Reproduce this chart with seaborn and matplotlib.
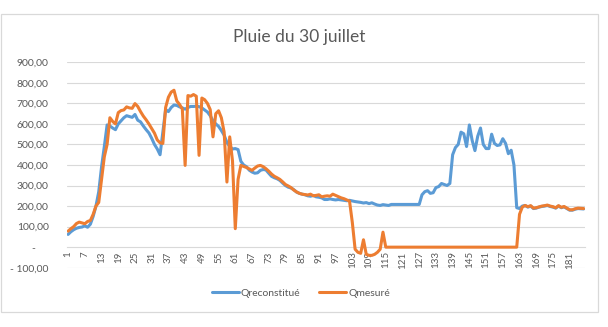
import matplotlib
matplotlib.use("Agg")
import matplotlib.pyplot as plt
from matplotlib.patches import Rectangle
import numpy as np
import pandas as pd
import seaborn as sns

# Flow series (m3/h), one value per time step
q_reconstitue = [
    62, 75, 85, 92, 96, 98, 104, 97, 112, 150,
    200, 270, 390, 490, 595, 590, 580, 572, 600, 615,
    630, 640, 636, 632, 646, 618, 610, 590, 572, 556,
    530, 500, 478, 450, 560, 670, 660, 680, 692, 690,
    683, 678, 672, 680, 685, 685, 686, 684, 678, 668,
    658, 640, 615, 600, 588, 568, 545, 510, 490, 478,
    480, 475, 418, 400, 392, 375, 366, 360, 362, 374,
    378, 376, 360, 345, 338, 333, 325, 312, 300, 292,
    288, 280, 268, 262, 258, 255, 250, 248, 252, 245,
    243, 240, 232, 232, 235, 232, 230, 232, 230, 228,
    226, 228, 225, 222, 220, 218, 215, 217, 212, 216,
    210, 205, 203, 207, 205, 203, 208, 208, 208, 208,
    208, 208, 208, 208, 208, 208, 208, 255, 270, 275,
    262, 265, 290, 295, 310, 305, 300, 310, 450, 485,
    500, 560, 552, 490, 595, 520, 470, 540, 580, 500,
    480, 480, 550, 505, 495, 498, 528, 505, 455, 472,
    400, 192, 188, 200, 203, 195, 200, 188, 190, 195,
    198, 200, 203, 198, 195, 190, 200, 192, 196, 188,
    180, 180, 185, 188, 187, 186,
]

q_mesure = [
    78, 90, 100, 115, 122, 118, 114, 125, 130, 160,
    200, 218, 330, 440, 500, 630, 612, 600, 655, 665,
    668, 683, 678, 676, 699, 685, 660, 638, 620, 600,
    578, 555, 522, 508, 505, 680, 730, 755, 764, 712,
    695, 672, 398, 738, 735, 743, 735, 447, 726, 718,
    700, 670, 537, 650, 664, 630, 560, 317, 537, 420,
    90, 330, 398, 393, 388, 381, 374, 385, 395, 398,
    392, 382, 370, 356, 345, 338, 330, 318, 305, 298,
    290, 278, 269, 262, 258, 256, 254, 258, 250, 252,
    255, 245, 248, 250, 248, 258, 252, 246, 240, 236,
    230, 224, 120, -10, -25, -30, 36, -35, -40, -40,
    -35, -25, -10, 73, 0, 0, 0, 0, 0, 0,
    0, 0, 0, 0, 0, 0, 0, 0, 0, 0,
    0, 0, 0, 0, 0, 0, 0, 0, 0, 0,
    0, 0, 0, 0, 0, 0, 0, 0, 0, 0,
    0, 0, 0, 0, 0, 0, 0, 0, 0, 0,
    0, 0, 160, 195, 203, 197, 202, 190, 192, 196,
    200, 202, 205, 200, 197, 192, 202, 194, 198, 190,
    182, 182, 187, 190, 189, 188,
]

series_names = ["Qreconstitué", "Qmesuré"]
series_colors = ["#5B9BD5", "#ED7D31"]
title_text = "Pluie du 30 juillet"
y_ticks = list(range(-100, 901, 100))

steps = np.arange(1, len(q_reconstitue) + 1)
df = pd.DataFrame({
    "pas": np.concatenate([steps, steps]),
    "debit": q_reconstitue + q_mesure,
    "serie": [series_names[0]] * len(steps) + [series_names[1]] * len(steps),
})

sns.set_theme(style="white")
plt.rcParams["font.family"] = ["Lato", "DejaVu Sans"]
text_grey = "#595959"
grid_grey = "#D9D9D9"

fig = plt.figure(figsize=(6.08, 3.27), dpi=100)
fig.patch.set_facecolor("white")

# Chart-area frame
fig.add_artist(Rectangle((1 / 608, 1 - 312 / 327), 597 / 608, 298 / 327,
                         transform=fig.transFigure, fill=False,
                         edgecolor=grid_grey, linewidth=0.9))

ax = fig.add_axes([66.7 / 608, 1 - 267.7 / 327, (585 - 66.7) / 608, (267.7 - 62.3) / 327])

sns.lineplot(data=df, x="pas", y="debit", hue="serie", palette=series_colors,
             linewidth=2.2, ax=ax, legend=False)

ax.set_xlim(0.5, len(steps) + 0.5)
ax.set_ylim(-100, 900)
ax.set_yticks(y_ticks)


def fmt(v):
    if v == 0:
        return "-     "
    s = f"{abs(v):.2f}".replace(".", ",")
    return ("- " + s) if v < 0 else s


ax.set_yticklabels([fmt(v) for v in y_ticks])
for v in y_ticks:
    if v != 0:
        ax.axhline(v, color=grid_grey, linewidth=0.8, zorder=0)

xt = list(range(1, len(steps) + 1, 6))
ax.set_xticks(xt)
ax.set_xticklabels([str(t) for t in xt])

for side in ["top", "right", "left"]:
    ax.spines[side].set_visible(False)
ax.spines["bottom"].set_position(("data", 0))
ax.spines["bottom"].set_color(grid_grey)
ax.spines["bottom"].set_linewidth(0.8)
ax.spines["bottom"].set_zorder(0)

ax.tick_params(axis="both", length=0, colors=text_grey)
ax.tick_params(axis="y", pad=13, labelsize=7.5)
ax.tick_params(axis="x", pad=3, labelsize=7, labelrotation=90)
ax.set_xlabel("")
ax.set_ylabel("")
ax.set_facecolor("white")

fig.text(299 / 608, 1 - 37 / 327, title_text, ha="center", va="center",
         fontsize=12.5, color=text_grey)

handles = [plt.Line2D([], [], color=c, linewidth=2.2) for c in series_colors]
fig.legend(handles, series_names, loc="center", bbox_to_anchor=(301 / 608, 1 - 293 / 327),
           ncol=2, frameon=False, fontsize=7.5, labelcolor=text_grey,
           handlelength=2.6, handletextpad=0.2, columnspacing=1.8)

fig.savefig("out.png", dpi=100, facecolor="white")
